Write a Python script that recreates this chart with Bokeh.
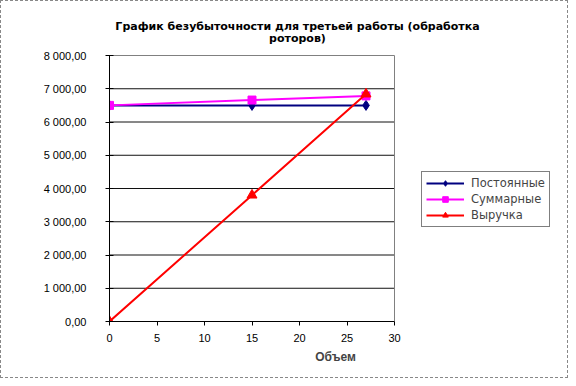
from bokeh.plotting import figure
from bokeh.models import Range1d, FixedTicker, Legend, LegendItem, Label
from bokeh.embed import file_html
from bokeh.resources import INLINE

volume = [0, 15, 27]
fixed_costs = [6500, 6500, 6500]
total_costs = [6500, 6660, 6785]
revenue = [0, 3800, 6840]

x_ticks = [0, 5, 10, 15, 20, 25, 30]
y_ticks = [0, 1000, 2000, 3000, 4000, 5000, 6000, 7000, 8000]
y_tick_labels = ["0,00", "1 000,00", "2 000,00", "3 000,00", "4 000,00",
                 "5 000,00", "6 000,00", "7 000,00", "8 000,00"]
title_lines = ["График безубыточности для третьей работы (обработка", "роторов)"]
x_title = "Объем"
series_names = ["Постоянные", "Суммарные", "Выручка"]

FONT = "Liberation Sans"
TFONT = "DejaVu Sans"

# layout in pixels
W, H = 568, 378
PLOT_L, PLOT_R, PLOT_T, PLOT_B = 108, 393, 54, 320
FRAME_R, FRAME_T = 560, 12
x_max, y_max = x_ticks[-1], y_ticks[-1]
px_x = (PLOT_R - PLOT_L) / x_max
px_y = (PLOT_B - PLOT_T) / y_max
xr_end = (FRAME_R - PLOT_L) / px_x
yr_end = (PLOT_B - FRAME_T) / px_y

p = figure(width=W, height=H, output_backend="svg", toolbar_location=None,
           x_range=Range1d(0, xr_end), y_range=Range1d(0, yr_end),
           min_border_left=PLOT_L, min_border_right=W - FRAME_R,
           min_border_top=FRAME_T, min_border_bottom=H - PLOT_B)
p.styles = {"border": "1px dashed #888888", "box-sizing": "border-box"}
p.outline_line_color = None
p.xgrid.grid_line_color = None
p.ygrid.grid_line_color = None

# gridlines and plot-area border limited to the plot area
p.segment(x0=[0] * (len(y_ticks) - 2), x1=[x_max] * (len(y_ticks) - 2),
          y0=y_ticks[1:-1], y1=y_ticks[1:-1], line_color="#101010", line_width=1)
p.segment(x0=[0, x_max], x1=[x_max, x_max], y0=[y_max, 0], y1=[y_max, y_max],
          line_color="#808080", line_width=1)

p.xaxis.ticker = FixedTicker(ticks=x_ticks)
p.yaxis.ticker = FixedTicker(ticks=y_ticks)
p.xaxis.bounds = (0, x_max)
p.yaxis.bounds = (0, y_max)
p.yaxis.major_label_overrides = {t: l for t, l in zip(y_ticks, y_tick_labels)}
for ax in (p.xaxis[0], p.yaxis[0]):
    ax.axis_line_color = "#000000"
    ax.major_tick_line_color = "#000000"
    ax.major_label_text_font = FONT
    ax.major_label_text_font_size = "11px"
    ax.major_label_text_color = "#000000"
    ax.minor_tick_line_color = None
    ax.major_tick_out = 4
p.yaxis.major_tick_in = 4
p.xaxis.major_tick_in = 0
p.yaxis.major_label_standoff = 19
p.xaxis.major_label_standoff = 8
p.xaxis.axis_label = x_title
p.xaxis.axis_label_text_font = FONT
p.xaxis.axis_label_text_font_size = "12px"
p.xaxis.axis_label_text_font_style = "bold"
p.xaxis.axis_label_standoff = 5
p.xaxis.axis_label_text_align = "center"

r1l = p.line(volume, fixed_costs, line_color="#000080", line_width=2)
r1m = p.scatter(volume, fixed_costs, marker="diamond", size=10, fill_color="#000080", line_color="#000080")
r2l = p.line(volume, total_costs, line_color="#FF00FF", line_width=2)
r2m = p.scatter(volume, total_costs, marker="square", size=8, fill_color="#FF00FF", line_color="#FF00FF")
r3l = p.line(volume, revenue, line_color="#FF0000", line_width=2)
r3m = p.scatter(volume, revenue, marker="triangle", size=10, fill_color="#FF0000", line_color="#FF0000")

legend = Legend(items=[LegendItem(label=series_names[0], renderers=[r1l, r1m]),
                       LegendItem(label=series_names[1], renderers=[r2l, r2m]),
                       LegendItem(label=series_names[2], renderers=[r3l, r3m])],
                location=(420 - PLOT_L, PLOT_B - 226), border_line_color="#000000", border_line_width=1,
                label_text_font=TFONT, label_text_font_size="11.5px",
                glyph_width=38, glyph_height=14, spacing=2, padding=4,
                label_standoff=7, margin=0, background_fill_alpha=1)
p.add_layout(legend, "center")

title_x = (296 - PLOT_L) / px_x
for i, t in enumerate(title_lines):
    ypix = 25 + 12 * i
    p.add_layout(Label(x=title_x, y=(PLOT_B - ypix) / px_y, text=t,
                       text_align="center", text_baseline="middle", text_font=TFONT,
                       text_font_size="11px", text_font_style="bold", text_color="#000000"))

open("out.html", "w").write(file_html(p, INLINE))
